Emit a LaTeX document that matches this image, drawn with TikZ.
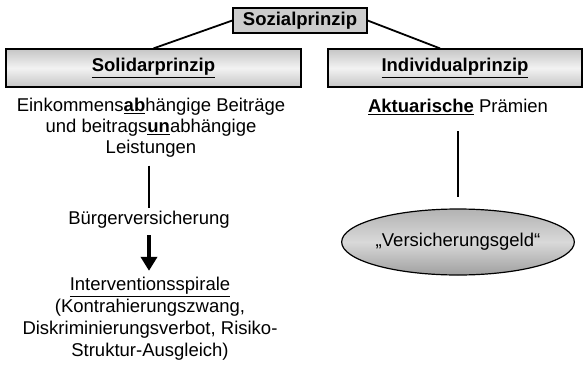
\documentclass[tikz,border=0pt]{standalone}
\usepackage{fontspec}
\setmainfont{Liberation Sans}
\usetikzlibrary{arrows.meta,shapes.geometric}

\begin{document}
\begin{tikzpicture}[x=1pt,y=-1pt,
  every node/.style={font=\fontsize{18.5}{21}\selectfont},
  kopf/.style={draw,line width=1.2pt,top color=gray!45,bottom color=gray!45,middle color=gray!10,minimum height=38pt,inner sep=0pt},
  linie/.style={line width=1.8pt},
  pfeil/.style={line width=4.5pt,-{Triangle[width=16pt,length=14pt]}}]
  \useasboundingbox (0,0) rectangle (583,364);
  \node[draw,line width=1.2pt,fill=gray!40,minimum width=134pt,minimum height=25pt,inner sep=0pt,font=\fontsize{18.5}{21}\selectfont\bfseries] (sozial) at (300,20.5) {Sozialprinzip};
  \node[kopf,minimum width=295pt] (solidar) at (153.5,68) {\underline{\textbf{Solidarprinzip}}};
  \node[kopf,minimum width=254pt] (individual) at (455,68) {\underline{\textbf{Individualprinzip}}};
  \draw[linie] (sozial.west) -- (solidar.north);
  \draw[linie] (sozial.east) -- ([xshift=-15pt]individual.north);
  % linke Seite
  \node[align=center] (beitraege) at (151,127.5) {Einkommens\underline{\textbf{ab}}hängige Beiträge\\und beitrags\underline{\textbf{un}}abhängige\\Leistungen};
  \node (buerger) at (149,220) {Bürgerversicherung};
  \node[align=center,font=\fontsize{18.5}{22}\selectfont] (spirale) at (150,319) {\underline{Interventionsspirale}\\(Kontrahierungszwang,\\Diskriminierungsverbot, Risiko-\\Struktur-Ausgleich)};
  \draw[linie,shorten <=5pt] (beitraege.south -| buerger) -- (buerger);
  \draw[pfeil,shorten <=3pt,shorten >=3pt] (buerger) -- (spirale.north -| buerger);
  % rechte Seite
  \node (praemien) at (458,107) {\underline{\textbf{Aktuarische}} Prämien};
  \node[ellipse,draw,line width=1.2pt,top color=gray!60,bottom color=gray!75,middle color=gray!30,minimum width=197pt,minimum height=66pt,inner sep=0pt] (geld) at (458,242) {„Versicherungsgeld“};
  \draw[linie,shorten <=13pt,shorten >=11pt] (praemien) -- (geld);
\end{tikzpicture}
\end{document}
